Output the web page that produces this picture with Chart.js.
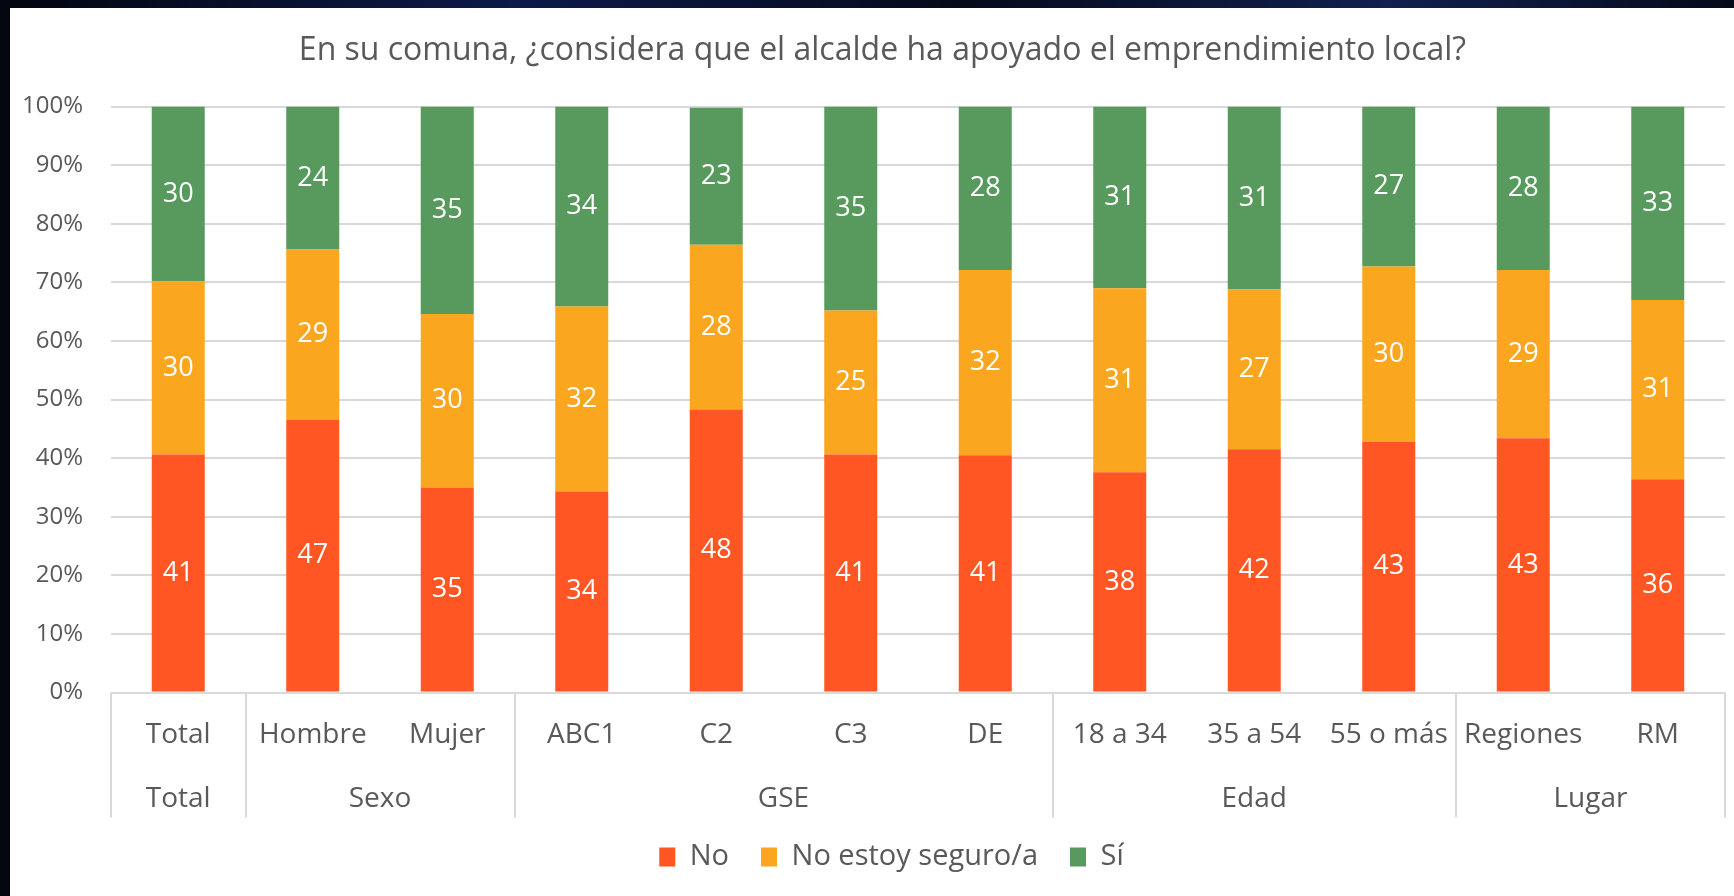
<!DOCTYPE html>
<html><head><meta charset="utf-8">
<script src="https://cdn.jsdelivr.net/npm/chart.js@4.4.0/dist/chart.umd.min.js"></script>
<style>
html,body{margin:0;padding:0;width:1734px;height:896px;overflow:hidden;background:#060b1c;}
#bg{position:absolute;left:0;top:0;width:1734px;height:896px;background:linear-gradient(90deg,#03060f 0%,#0c1a4a 30%,#050a1a 55%,#10204f 80%,#050a1a 100%);}
#panel{position:absolute;left:10px;top:8px;width:1724px;height:888px;background:#fff;}
canvas{display:block;}
</style></head><body>
<div id="bg"></div>
<div id="panel"><canvas id="c" width="1724" height="888"></canvas></div>
<script>
const titleText = 'En su comuna, ¿considera que el alcalde ha apoyado el emprendimiento local?';
const categories = ['Total','Hombre','Mujer','ABC1','C2','C3','DE','18 a 34','35 a 54','55 o más','Regiones','RM'];
const groupNames = ['Total','Sexo','GSE','Edad','Lugar'];
const groupSizes = [1,2,4,3,2];
const seriesNames = ['No','No estoy seguro/a','Sí'];
const valuesNo       = [40.6, 46.5, 35.0, 34.3, 48.3, 40.6, 40.5, 37.6, 41.5, 42.8, 43.4, 36.4];
const valuesNoSeguro = [29.6, 29.1, 29.6, 31.6, 28.1, 24.6, 31.6, 31.4, 27.3, 29.9, 28.7, 30.6];
const valuesSi       = [29.8, 24.4, 35.4, 34.1, 23.4, 34.8, 27.9, 31.0, 31.2, 27.3, 27.9, 33.0];
const yTickValues = [0,10,20,30,40,50,60,70,80,90,100];
const colors = ['#FF5623','#FAA61E','#589A5D'];

const FONT = "'Open Sans', sans-serif";
const TEXT = '#595959';
const GRID = '#d9d9d9';
Chart.defaults.font.family = FONT;
Chart.defaults.color = TEXT;

const groupPlugin = {
  id: 'groups',
  afterLayout(chart) {
    if (chart.legend) { chart.legend.left += 24; chart.legend.right += 24; }
    if (chart.titleBlock) { chart.titleBlock.left += 15; chart.titleBlock.right += 15; }
  },
  afterDraw(chart) {
    const ctx = chart.ctx, xs = chart.scales.x, yb = chart.chartArea.bottom;
    const half = (xs.getPixelForValue(1) - xs.getPixelForValue(0)) / 2;
    ctx.save();
    ctx.strokeStyle = GRID; ctx.lineWidth = 2;
    ctx.fillStyle = TEXT; ctx.font = '28px ' + FONT;
    ctx.textAlign = 'center'; ctx.textBaseline = 'middle';
    let idx = 0;
    const lines = [];
    groupSizes.forEach((n, g) => {
      const l = xs.getPixelForValue(idx) - half;
      const r = xs.getPixelForValue(idx + n - 1) + half;
      lines.push(l);
      if (g === groupSizes.length - 1) lines.push(r);
      ctx.fillText(groupNames[g], (l + r) / 2, yb + 107);
      idx += n;
    });
    lines.forEach(x => { ctx.beginPath(); ctx.moveTo(Math.round(x), yb); ctx.lineTo(Math.round(x), yb + 125); ctx.stroke(); });
    ctx.restore();
  }
};

const labelPlugin = {
  id: 'vals',
  afterDatasetsDraw(chart) {
    const ctx = chart.ctx;
    ctx.save();
    ctx.fillStyle = '#ffffff'; ctx.font = '27px ' + FONT;
    ctx.textAlign = 'center'; ctx.textBaseline = 'middle';
    chart.data.datasets.forEach((ds, di) => {
      chart.getDatasetMeta(di).data.forEach((el, i) => {
        const p = el.getCenterPoint();
        ctx.fillText(String(Math.round(ds.data[i])), p.x, p.y);
      });
    });
    ctx.restore();
  }
};

new Chart(document.getElementById('c'), {
  type: 'bar',
  data: {
    labels: categories,
    datasets: [
      { label: seriesNames[0], data: valuesNo, backgroundColor: colors[0] },
      { label: seriesNames[1], data: valuesNoSeguro, backgroundColor: colors[1] },
      { label: seriesNames[2], data: valuesSi, backgroundColor: colors[2] }
    ]
  },
  options: {
    responsive: false,
    animation: false,
    events: [],
    barPercentage: 0.394,
    categoryPercentage: 1,
    layout: { padding: { top: 16, right: 9, left: 0, bottom: 14.5 } },
    plugins: {
      title: { display: true, text: titleText, color: TEXT, font: { size: 32, weight: 'normal' }, padding: { top: 8, bottom: 36.2 } },
      legend: { position: 'bottom', labels: { boxWidth: 16, boxHeight: 19, font: { size: 29 }, color: TEXT, padding: 32 } },
      tooltip: { enabled: false }
    },
    scales: {
      x: {
        stacked: true,
        grid: { display: false },
        border: { display: false },
        ticks: { font: { size: 28 }, color: TEXT, padding: 18, maxRotation: 0, autoSkip: false },
        afterFit(s) { s.height = 118; }
      },
      y: {
        stacked: true, min: 0, max: 100,
        afterBuildTicks(s) { s.ticks = yTickValues.map(v => ({ value: v })); },
        ticks: { font: { size: 24 }, color: TEXT, padding: 28, callback: v => v + '%' },
        grid: { color: GRID, lineWidth: 2, drawTicks: false },
        border: { display: false },
        afterFit(s) { s.width = 101; }
      }
    }
  },
  plugins: [groupPlugin, labelPlugin]
});
</script>
</body></html>
